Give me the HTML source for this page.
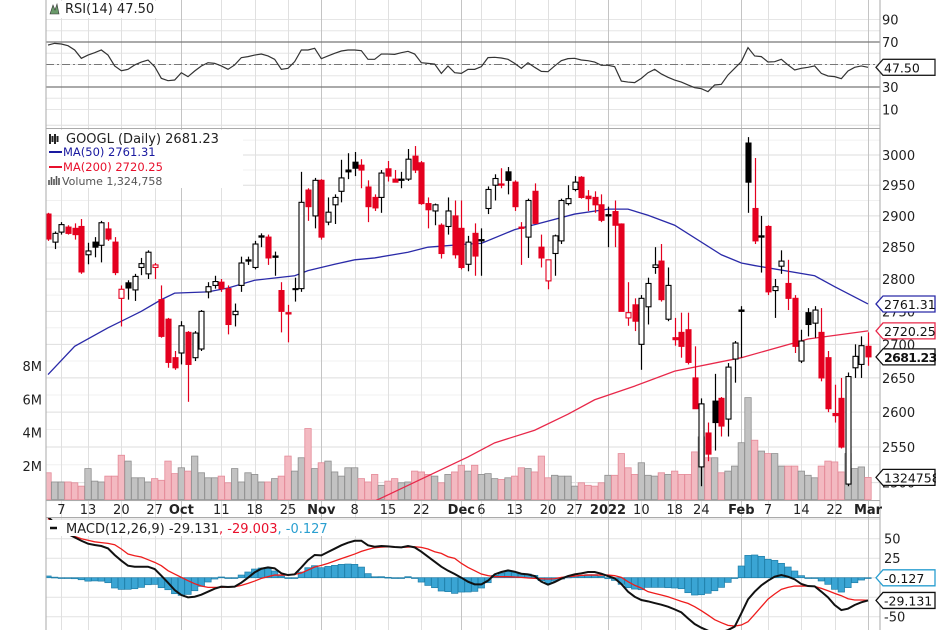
<!DOCTYPE html>
<html><head><meta charset="utf-8"><style>
body{margin:0;background:#fff;}
svg{display:block;font-family:"DejaVu Sans","Liberation Sans",sans-serif;}
</style></head><body>
<svg id="chart" width="936" height="630" viewBox="0 0 936 630" xmlns="http://www.w3.org/2000/svg">
<rect x="0" y="0" width="936" height="630" fill="#fff"/>
<defs>
<clipPath id="cpMain"><rect x="46" y="129" width="834" height="371"/></clipPath>
<clipPath id="cpMacd"><rect x="46" y="518" width="834" height="112"/></clipPath>
<clipPath id="cpRsi"><rect x="46" y="0" width="834" height="128"/></clipPath>
</defs>
<g id="grid"></g>
<g id="vol" clip-path="url(#cpMain)"></g>
<g id="ma" clip-path="url(#cpMain)"></g>
<g id="candles" clip-path="url(#cpMain)"></g>
<g id="rsi" clip-path="url(#cpRsi)"></g>
<g id="macd" clip-path="url(#cpMacd)"></g>
<g id="axes"></g>
<g id="legend">
  <rect x="47" y="1" width="130" height="17" fill="#fff"/>
  <path d="M50 14 L53 5 L55 10 L57 4 L59 14 Z" fill="#6a9a6a" stroke="#333" stroke-width="0.6"/>
  <text x="65" y="13" font-size="13" fill="#222">RSI(14) 47.50</text>
  <rect x="47" y="130" width="196" height="58" fill="#fff"/>
  <path d="M50 134 v10 M52.5 136 v6 M55 134 v10 M57.5 136 v6" stroke="#222" stroke-width="2"/>
  <text x="66" y="143" font-size="13" fill="#222">GOOGL (Daily) 2681.23</text>
  <line x1="49" y1="152" x2="62" y2="152" stroke="#1a1aa0" stroke-width="2"/>
  <text x="63" y="156" font-size="11.5" fill="#1a1aa0">MA(50) 2761.31</text>
  <line x1="49" y1="167" x2="62" y2="167" stroke="#e8102c" stroke-width="2"/>
  <text x="63" y="171" font-size="11.5" fill="#e8102c">MA(200) 2720.25</text>
  <path d="M49 185 v-5 M51.5 185 v-8 M54 185 v-6 M56.5 185 v-9 M59 185 v-7" stroke="#555" stroke-width="1.6"/>
  <text x="62" y="185" font-size="11" fill="#555">Volume 1,324,758</text>
  <rect x="47" y="520" width="330" height="16" fill="#fff"/>
  <line x1="50" y1="528" x2="57" y2="528" stroke="#111" stroke-width="2.5"/>
  <text x="66" y="533" font-size="13" fill="#222">MACD(12,26,9) -29.131<tspan fill="#e8102c">, -29.003</tspan><tspan fill="#2a9fd0">, -0.127</tspan></text>
</g>
</svg>
<script>
// ---- data ----
const tickIdx = [2,6,11,16,20,26,31,36,41,46,51,56,62,65,70,75,79,84,89,94,98,104,108,113,118,123];
const tickLabels = ["7","13","20","27","Oct","11","18","25","Nov","8","15","22","Dec","6","13","20","27","2022","10","18","24","Feb","7","14","22","Mar"];
const tickBold = [0,0,0,0,1,0,0,0,1,0,0,0,1,0,0,0,0,1,0,0,0,1,0,0,0,1];
const prevClose0 = 2910;
const opens = [2903,2858,2874,2882,2880,2883,2838,2858,2853,2879,2858,2770,2794,2783,2818,2808,2818,2768,2738,2680,2687,2718,2680,2693,2780,2790,2795,2785,2745,2790,2830,2818,2868,2866,2836,2782,2748,2785,2785,2942,2900,2958,2890,2918,2940,2975,2988,2983,2947,2930,2930,2977,2960,2960,2960,2998,2987,2920,2908,2885,2883,2900,2880,2823,2872,2862,2912,2950,2952,2972,2955,2882,2866,2940,2850,2797,2840,2860,2920,2943,2963,2932,2930,2918,2902,2907,2887,2740,2760,2700,2757,2818,2828,2738,2710,2718,2722,2650,2522,2570,2616,2620,2590,2678,2752,3020,2912,2868,2883,2782,2820,2793,2770,2675,2748,2732,2718,2680,2598,2620,2498,2665,2670,2697];
const highs = [2905,2875,2890,2885,2888,2895,2857,2866,2892,2890,2866,2790,2798,2808,2833,2845,2825,2790,2740,2690,2735,2720,2720,2752,2795,2805,2800,2790,2762,2835,2835,2860,2872,2870,2843,2795,2760,2802,2972,2945,2962,2960,2930,2935,2992,3003,3005,2993,2958,2935,2975,2990,2975,2972,3010,3015,2990,2930,2920,2888,2930,2925,2925,2868,2888,2880,2948,2968,2978,2980,2958,2890,2928,2953,2870,2830,2870,2928,2950,2965,2965,2942,2940,2935,2915,2925,2888,2795,2770,2775,2802,2850,2855,2818,2740,2748,2748,2697,2620,2585,2656,2622,2672,2705,2758,3030,2995,2900,2885,2800,2845,2830,2775,2722,2755,2758,2755,2690,2640,2650,2658,2700,2712,2718];
const lows = [2860,2847,2870,2870,2862,2808,2823,2834,2826,2860,2806,2727,2768,2766,2806,2800,2800,2710,2665,2662,2670,2615,2675,2690,2770,2785,2780,2715,2727,2780,2822,2815,2850,2822,2805,2718,2703,2765,2780,2892,2880,2862,2885,2887,2922,2960,2965,2945,2890,2908,2905,2956,2955,2945,2957,2970,2918,2880,2885,2832,2870,2832,2815,2812,2805,2805,2903,2925,2945,2935,2908,2822,2833,2888,2818,2784,2805,2855,2917,2940,2928,2908,2905,2890,2850,2850,2750,2728,2720,2662,2730,2808,2765,2735,2698,2680,2670,2605,2495,2530,2545,2565,2565,2643,2680,2905,2855,2810,2775,2740,2808,2752,2687,2672,2712,2710,2645,2600,2585,2548,2495,2650,2650,2668];
const closes = [2863,2872,2886,2872,2870,2811,2844,2850,2889,2863,2810,2784,2786,2804,2824,2842,2822,2712,2673,2665,2728,2670,2717,2750,2788,2796,2785,2730,2750,2825,2828,2855,2866,2833,2834,2750,2746,2784,2922,2915,2958,2866,2906,2930,2962,2972,2978,2975,2915,2913,2970,2965,2955,2958,2993,2975,2920,2910,2918,2840,2908,2838,2818,2858,2836,2860,2943,2961,2950,2958,2915,2880,2925,2888,2833,2830,2868,2925,2928,2955,2930,2928,2918,2893,2900,2885,2750,2748,2735,2770,2793,2822,2768,2790,2707,2697,2673,2605,2612,2540,2585,2580,2666,2702,2750,2955,2860,2866,2780,2788,2828,2770,2697,2705,2730,2752,2650,2605,2595,2550,2652,2682,2698,2681.23];
const volumes = [1.6,1.05,1.05,1.05,1.0,0.8,1.85,1.1,1.05,1.4,1.4,2.65,2.3,1.3,1.3,1.05,1.25,1.15,2.3,1.55,1.9,1.7,2.6,1.6,1.3,1.3,1.4,1.0,1.85,1.05,1.6,1.5,1.05,1.05,1.25,1.4,2.6,1.7,2.5,4.25,1.85,2.2,2.3,1.65,1.4,1.9,1.9,1.25,1.05,1.5,0.85,1.1,1.25,1.0,1.05,1.7,1.65,1.5,1.4,1.0,1.5,1.65,2.05,1.7,2.05,1.5,1.55,1.25,1.2,1.3,1.4,1.9,1.85,1.65,2.6,1.3,1.45,1.4,1.4,0.8,1.0,0.85,0.8,1.0,1.45,1.45,2.75,1.9,1.5,2.2,1.45,1.4,1.6,1.5,1.7,1.5,1.5,2.85,3.75,2.5,2.5,1.6,1.7,2.0,3.4,6.1,3.55,2.9,2.75,2.75,2.0,2.0,2.0,1.7,1.45,1.3,2.0,2.3,2.25,1.65,2.75,1.85,1.95,1.32];
const ma50Idx = [0,4,9,14,17,19,24,27,31,37,39,43,46,49,54,57,63,65,70,73,79,84,87,90,94,101,104,106,115,118,123];
const ma50Val = [2655,2697,2725,2750,2768,2778,2780,2786,2798,2805,2813,2823,2830,2833,2842,2850,2855,2856,2878,2886,2903,2911,2911,2901,2885,2838,2825,2821,2805,2788,2761.31];
const ma200Idx = [48,63,67,73,78,82,88,94,104,114,123];
const ma200Val = [2470,2536,2556,2574,2597,2618,2638,2660,2680,2708,2720.25];
const rsiVals = [67.3,68.8,68.2,66.7,62.9,55.5,58.4,60.5,62.9,58.4,48.7,44.5,45.7,49.6,52.2,54.0,48.1,37.7,35.6,36.2,42.7,39.2,44.2,48.7,51.6,51.0,48.7,45.7,49.6,56.1,57.0,58.4,59.3,57.6,54.6,45.7,46.6,52.5,62.9,62.9,64.4,55.2,57.6,59.9,62.0,62.9,62.9,62.3,54.6,54.6,59.3,59.3,59.0,60.5,61.7,59.3,51.6,51.0,50.4,42.1,48.7,42.7,42.1,45.7,45.7,48.1,56.1,56.4,55.8,54.6,51.0,46.6,51.6,47.5,43.9,43.6,48.7,53.4,55.2,55.5,54.0,53.4,52.2,49.3,49.3,48.1,35.3,34.4,33.9,37.7,42.7,45.7,41.6,38.6,36.2,34.4,31.8,29.4,28.5,25.9,31.8,32.4,40.7,46.6,52.5,65.0,57.6,57.0,52.2,52.5,54.6,49.6,45.1,46.6,47.5,48.7,42.1,39.8,39.2,37.4,44.2,47.5,48.7,47.5];
const macdVals = [78.2,69.7,61.1,56.0,51.7,47.4,43.6,41.9,40.6,37.6,29.1,21.8,15.4,14.1,14.1,14.1,11.1,2.6,-6.4,-15.8,-22.2,-25.2,-24.4,-21.8,-17.9,-14.1,-11.5,-12.0,-11.5,-6.4,0,6.8,11.5,13.2,12.0,5.6,3.4,4.3,13.2,22.6,29.1,28.6,32.9,37.2,41.5,44.9,47.4,47.4,41.5,39.7,40.6,40.2,39.3,38.9,40.6,38.9,33.3,26.9,20.5,14.1,9.0,4.7,0,-5.1,-8.5,-8.5,-3.8,4.3,7.3,9.4,7.7,5.1,4.3,2.1,-5.1,-9.0,-5.6,-1.3,2.1,4.3,5.6,7.3,7.3,5.1,2.1,-0.9,-8.1,-17.9,-24.4,-28.6,-30.3,-32.5,-34.6,-37.2,-40.6,-44.4,-52.1,-59.4,-64.1,-67.9,-70.5,-70.1,-67.1,-62.8,-45.7,-27.8,-17.9,-9.8,-3.8,1.3,3.4,1.3,-2.1,-8.1,-10.7,-11.1,-17.9,-25.2,-35.0,-41.5,-39.7,-35.0,-31.6,-29.131];
const signalVals = [76,69,62,57,53,50,48,46,45,44,42.3,36.8,30.3,28.2,26.5,23.1,19.7,15.4,9.0,4.7,0.4,-3.8,-7.7,-10.7,-12.4,-12.4,-12.4,-12.0,-11.5,-9.8,-7.3,-4.3,-0.9,1.3,3.4,3.4,3.4,4.3,6.0,9.8,13.7,15.8,18.4,21.4,24.4,27.4,30.3,33.8,36.3,38.5,39.3,39.7,39.3,38.9,39.3,39.7,38.9,36.8,33.3,31.2,26.9,24.8,18.4,13.2,9.0,4.7,2.6,1.3,1.3,1.3,0.9,0.4,-0.4,-0.9,-1.3,-1.7,-1.3,0.4,1.3,2.1,3.0,3.4,3.4,3.4,3.4,2.6,0.4,-5.1,-9.8,-13.2,-17.9,-20.1,-22.2,-24.4,-27.4,-30.3,-32.9,-37.2,-42.3,-47.9,-53.8,-57.7,-61.1,-62.0,-60.7,-56.4,-47.0,-37.2,-27.4,-20.9,-15.0,-12.4,-10.7,-10.7,-10.7,-11.1,-13.7,-16.7,-20.1,-23.1,-27.0,-28.6,-28.6,-29.003];
const priceTicks = [3000,2950,2900,2850,2800,2750,2700,2650,2600,2550,2500];
const volTicks = [2,4,6,8];
const rsiTicks = [90,70,30,10];
const macdTicks = [50,25,-50];

// ---- scales ----
const NS = "http://www.w3.org/2000/svg";
const xOf = i => 48 + i * (820 / 123);
const yPrice = p => 155 + 1797 * Math.log(3000 / p);
const yVol = v => 499.5 - v * 16.7;
const yRsi = v => 64.5 - (v - 50) * 1.125;
const yMacd = v => 577.7 - v * 0.78;
function el(tag, attrs, parent){const e=document.createElementNS(NS,tag);for(const k in attrs)e.setAttribute(k,attrs[k]);parent.appendChild(e);return e;}
const G = id => document.getElementById(id);
const prevOf = i => i > 0 ? closes[i-1] : prevClose0;

// ---- grid ----
const grid = G('grid');
for (let v = 10; v <= 90; v += 10) {
  const l = el('line',{x1:46,x2:880,y1:yRsi(v),y2:yRsi(v),stroke:'#e6e6e6','stroke-width':1},grid);
  
  
}
for (let p = 2450; p <= 3050; p += 25) {
  const l = el('line',{x1:46,x2:880,y1:yPrice(p),y2:yPrice(p),stroke:p%50===0?'#dedede':'#f0f0f0','stroke-width':1},grid);
  
  
}
for (let v = -75; v <= 75; v += 25) {
  const l = el('line',{x1:46,x2:880,y1:yMacd(v),y2:yMacd(v),stroke:'#e2e2e2','stroke-width':1},grid);
  
  
}
tickIdx.forEach((ti, k) => {
  const x = Math.round(xOf(ti)) + 0.5;
  const l = el('line',{x1:x,x2:x,y1:0,y2:630,stroke:tickBold[k]?'#c4c4c4':'#e0e0e0','stroke-width':1},grid);
  
  
});

// ---- volume ----
const vol = G('vol');
volumes.forEach((v, i) => {
  const down = closes[i] < prevOf(i);
  const r = el('rect',{x:xOf(i)-3.2,y:yVol(v),width:6.4,height:499.5-yVol(v),fill:down?'#f3b9c1':'#c2c2c2',stroke:down?'#e48a98':'#8e8e8e','stroke-width':0.8},vol);
  
  
});

// ---- moving averages ----
const ma = G('ma');
const p50 = el('polyline',{points:ma50Idx.map((ix,k)=>xOf(ix)+','+yPrice(ma50Val[k])).join(' '),fill:'none',stroke:'#2a2aa8','stroke-width':1.3},ma);


const p200 = el('polyline',{points:ma200Idx.map((ix,k)=>xOf(ix)+','+yPrice(ma200Val[k])).join(' '),fill:'none',stroke:'#e8284a','stroke-width':1.3},ma);



// ---- candles ----
const cg = G('candles');
closes.forEach((c, i) => {
  const o = opens[i], h = highs[i], l = lows[i];
  const down = c < prevOf(i);
  const filled = c < o;
  const col = down ? '#e4001f' : '#000';
  const x = Math.round(xOf(i)) + 0.5;
  const w = el('line',{x1:x,x2:x,y1:yPrice(h),y2:yPrice(l),stroke:col,'stroke-width':1.2},cg);
  
  
  const top = Math.min(yPrice(o), yPrice(c)), bot = Math.max(yPrice(o), yPrice(c));
  const b = el('rect',{x:x-2.5,y:top,width:5,height:Math.max(bot-top,1),fill:filled?col:'#fff',stroke:col,'stroke-width':1.1},cg);
  
  
});

// ---- RSI ----
const rg = G('rsi');
[70,30].forEach(v => {
  const l = el('line',{x1:46,x2:880,y1:yRsi(v),y2:yRsi(v),stroke:'#777','stroke-width':1.2},rg);
  
  
});
const mid = el('line',{x1:46,x2:880,y1:yRsi(50),y2:yRsi(50),stroke:'#777','stroke-width':1,'stroke-dasharray':'8 3 2 3'},rg);


const rl = el('polyline',{points:rsiVals.map((v,i)=>xOf(i)+','+yRsi(v)).join(' '),fill:'none',stroke:'#333','stroke-width':1.2},rg);



// ---- MACD ----
const mg = G('macd');
macdVals.forEach((m, i) => {
  const h = m - signalVals[i];
  const y0 = yMacd(0), y1 = yMacd(h);
  const r = el('rect',{x:xOf(i)-3.2,y:Math.min(y0,y1),width:6.4,height:Math.max(Math.abs(y1-y0),0.8),fill:'#3aa5d4',stroke:'#1f7ea8','stroke-width':0.7},mg);
  
  
});
const sl = el('polyline',{points:signalVals.map((v,i)=>xOf(i)+','+yMacd(v)).join(' '),fill:'none',stroke:'#ee1c1c','stroke-width':1.3},mg);


const ml = el('polyline',{points:macdVals.map((v,i)=>xOf(i)+','+yMacd(v)).join(' '),fill:'none',stroke:'#111','stroke-width':2},mg);



// ---- axes & frames ----
const ax = G('axes');
[[46,0,46,630],[880,0,880,630],[46,128.5,880,128.5],[46,500.5,880,500.5],[46,517.5,880,517.5]].forEach(a => {
  const l = el('line',{x1:a[0],y1:a[1],x2:a[2],y2:a[3],stroke:'#aaa','stroke-width':1},ax);
  
  
});
function txt(x,y,s,size,anchor,fill,weight){const t=el('text',{x:x,y:y,'font-size':size,'text-anchor':anchor,fill:fill,'font-weight':weight||'normal'},ax);t.textContent=s;return t;}
rsiTicks.forEach(v => {
  const t = txt(882, yRsi(v)+5, String(v), 13, 'start', '#222');
  
  
});
priceTicks.forEach(v => {
  const t = txt(882, yPrice(v)+5, String(v), 13, 'start', '#222');
  
  
});
volTicks.forEach(v => {
  const t = txt(42, yVol(v)+5, v+'M', 13, 'end', '#222');
  
  
});
macdTicks.forEach(v => {
  const t = txt(884, yMacd(v)+5, String(v), 13, 'start', '#222');
  
  
});
tickIdx.forEach((ti,k) => {
  const t = txt(xOf(ti), 514, tickLabels[k], 13, 'middle', '#222', tickBold[k]?'bold':'normal');
  
  
});
// value tags
function tag(y, label, color, bold){
  const x0 = 876;
  const p = el('polygon',{points:`${x0},${y} ${x0+7},${y-8} 935,${y-8} 935,${y+8} ${x0+7},${y+8}`,fill:'#fff',stroke:color,'stroke-width':1.3},ax);
  
  
  const t = txt(x0+8, y+5, label, 12.5, 'start', '#111', bold?'bold':'normal');
  if (bold) t.setAttribute('letter-spacing','-0.6');
  
  
}
tag(yRsi(47.5), '47.50', '#222', false);
tag(yPrice(2761.31), '2761.31', '#2a2aa8', false);
tag(yPrice(2720.25), '2720.25', '#e8284a', false);
tag(yPrice(2681.23), '2681.23', '#111', true);
tag(yVol(1.324758), '1324758', '#111', false);
tag(yMacd(-0.127), '-0.127', '#2a9fd0', false);
tag(yMacd(-29.131), '-29.131', '#111', false);
</script>
</body></html>
